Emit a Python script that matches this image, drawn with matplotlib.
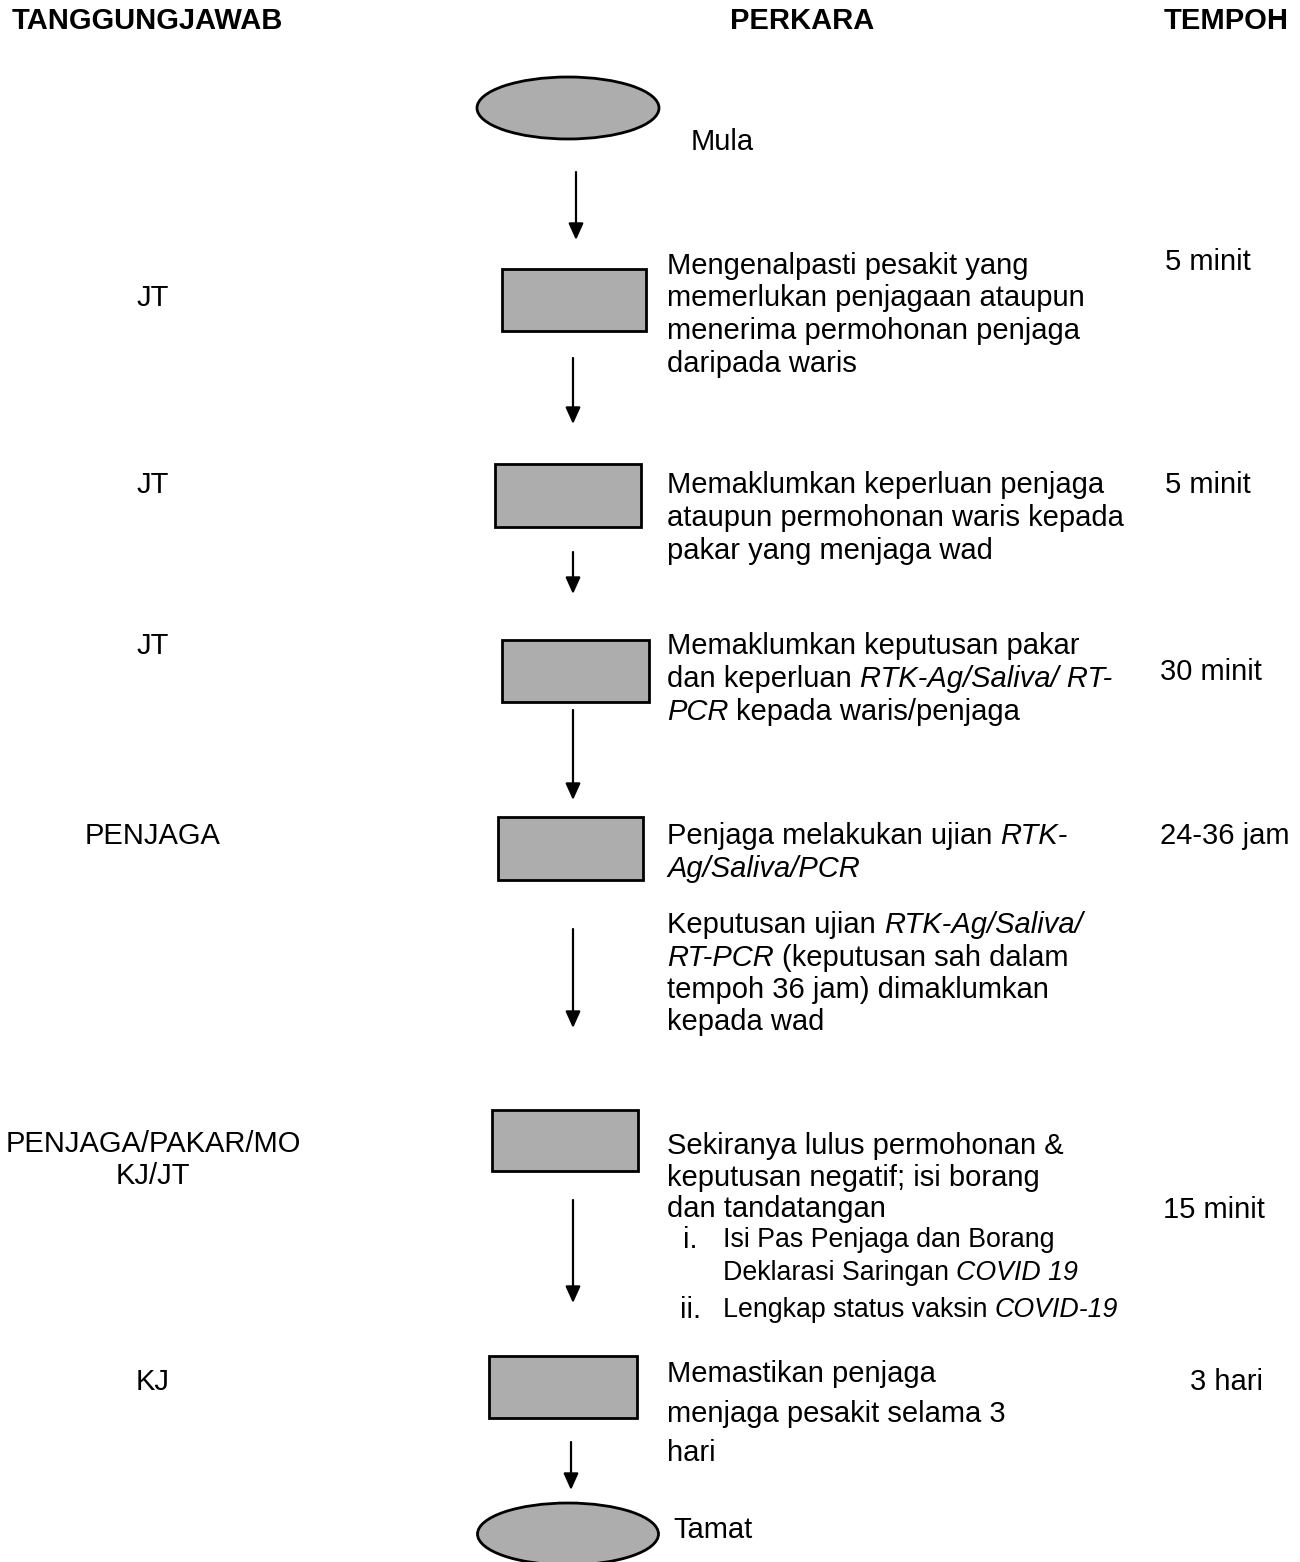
import matplotlib
matplotlib.use('Agg')
import matplotlib.pyplot as plt
from matplotlib.patches import Ellipse, Rectangle

plt.rcParams['font.family'] = ['Liberation Sans', 'DejaVu Sans']

# Column headers
headers = ['TANGGUNGJAWAB', 'PERKARA', 'TEMPOH']

# Who is responsible for each step (empty = none)
roles = ['JT', 'JT', 'JT', 'PENJAGA', '', 'PENJAGA/PAKAR/MO\nKJ/JT', 'KJ']

# Time needed for each step
durations = ['5 minit', '5 minit', '30 minit', '24-36 jam', '', '15 minit', '3 hari']

# Step descriptions: each line is a list of (text, italic)
steps = [
    [[('Mengenalpasti pesakit yang', False)],
     [('memerlukan penjagaan ataupun', False)],
     [('menerima permohonan penjaga', False)],
     [('daripada waris', False)]],
    [[('Memaklumkan keperluan penjaga', False)],
     [('ataupun permohonan waris kepada', False)],
     [('pakar yang menjaga wad', False)]],
    [[('Memaklumkan keputusan pakar', False)],
     [('dan keperluan ', False), ('RTK-Ag/Saliva/ RT-', True)],
     [('PCR', True), (' kepada waris/penjaga', False)]],
    [[('Penjaga melakukan ujian ', False), ('RTK-', True)],
     [('Ag/Saliva/PCR', True)]],
    [[('Keputusan ujian ', False), ('RTK-Ag/Saliva/', True)],
     [('RT-PCR', True), (' (keputusan sah dalam', False)],
     [('tempoh 36 jam) dimaklumkan', False)],
     [('kepada wad', False)]],
    [[('Sekiranya lulus permohonan &', False)],
     [('keputusan negatif; isi borang', False)],
     [('dan tandatangan', False)]],
    [[('Memastikan penjaga', False)],
     [('menjaga pesakit selama 3', False)],
     [('hari', False)]],
]

# Sub list under step 6
sub_marks = ['i.', 'ii.']
sub_items = [
    [[('Isi Pas Penjaga dan Borang', False)],
     [('Deklarasi Saringan ', False), ('COVID 19', True)]],
    [[('Lengkap status vaksin ', False), ('COVID-19', True)]],
]

start_label = 'Mula'
end_label = 'Tamat'

# ---- layout (pixel coordinates) ----
W, H = 1300, 1562
header_x = [12, 730, 1164]
header_y = 21
role_x = 153
role_y = [298, 485, 646, 836, None, 1160, 1382]
dur_pos = [(1165, 262), (1165, 485), (1160, 672), (1160, 836), None, (1163, 1210), (1190, 1382)]
boxes = [(502, 269, 144, 62), (495, 464, 146, 63), (502, 640, 147, 62), (498, 817, 145, 63),
         None, (492, 1110, 146, 61), (489, 1356, 148, 62)]
text_x = 667
text_y0 = [266, 485, 646, 836, 925, 1146, 1374]
line_gap = [32.5, 33, 33, 33, 32.5, 31.5, 39.5]
sub_y = [1240, 1273, 1310]
arrows = [(576, 172, 240), (573, 358, 424), (573, 552, 594), (573, 710, 800),
          (573, 929, 1028), (573, 1200, 1303), (571, 1442, 1490)]

FS = 21
FILL = '#adadad'

fig = plt.figure(figsize=(W / 100, H / 100), dpi=100)
ax = fig.add_axes([0, 0, 1, 1])
ax.set_xlim(0, W)
ax.set_ylim(H, 0)
ax.axis('off')
fig.canvas.draw()
renderer = fig.canvas.get_renderer()


def text_w(s, size, style='normal'):
    t = ax.text(0, 0, s, fontsize=size, style=style)
    w = t.get_window_extent(renderer).width
    t.remove()
    return w


def draw_line(x, y, pieces, size):
    sp = text_w('a a', size) - text_w('aa', size)
    for txt, it in pieces:
        lead = len(txt) - len(txt.lstrip(' '))
        trail = len(txt) - len(txt.rstrip(' '))
        x += lead * sp
        core = txt.strip(' ')
        st = 'italic' if it else 'normal'
        ax.text(x, y, core, fontsize=size, style=st, va='center', ha='left')
        x += text_w(core, size, st) + trail * sp


# headers
for hx, h in zip(header_x, headers):
    ax.text(hx, header_y, h, fontsize=21, fontweight='bold', va='center', ha='left')

# terminals
ax.add_patch(Ellipse((568, 108), 182, 62, facecolor=FILL, edgecolor='black', lw=2))
ax.text(691, 142, start_label, fontsize=FS, va='center')
ax.add_patch(Ellipse((568, 1534), 181, 62, facecolor=FILL, edgecolor='black', lw=2))
ax.text(673, 1530, end_label, fontsize=FS, va='center')

# process boxes
for b in boxes:
    if b is None:
        continue
    x, y, w, h = b
    ax.add_patch(Rectangle((x, y), w, h, facecolor=FILL, edgecolor='black', lw=2))

# arrows
for x, y1, y2 in arrows:
    ax.annotate('', xy=(x, y2), xytext=(x, y1),
                arrowprops=dict(arrowstyle='-|>,head_length=1.0,head_width=0.45',
                                color='black', lw=1.6, shrinkA=0, shrinkB=0))

# step texts
for i, lines in enumerate(steps):
    for j, pieces in enumerate(lines):
        draw_line(text_x, text_y0[i] + j * line_gap[i], pieces, FS)

# sub list
k = 0
for mark, item in zip(sub_marks, sub_items):
    ax.text(683 if mark == 'i.' else 680, sub_y[k], mark, fontsize=21, va='center')
    for pieces in item:
        draw_line(723, sub_y[k], pieces, 19.3)
        k += 1

# roles
for r, ry in zip(roles, role_y):
    if r:
        ax.text(role_x, ry, r, fontsize=FS, ha='center', va='center',
                multialignment='center', linespacing=1.2)

# durations
for d, p in zip(durations, dur_pos):
    if d:
        ax.text(p[0], p[1], d, fontsize=FS, va='center', ha='left')

fig.savefig('out.png', dpi=100)
